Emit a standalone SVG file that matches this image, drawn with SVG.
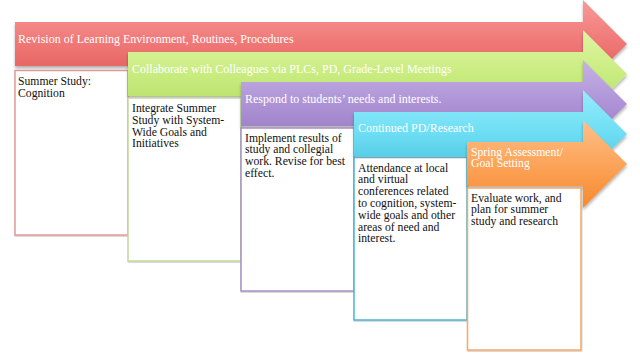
<svg xmlns="http://www.w3.org/2000/svg" width="640" height="355" viewBox="0 0 640 355">
<defs>
<linearGradient id="gRed" x1="0" y1="0" x2="0" y2="1"><stop offset="0" stop-color="#f79a98"/><stop offset="0.5" stop-color="#ef7775"/><stop offset="1" stop-color="#df5753"/></linearGradient>
<linearGradient id="gGreen" x1="0" y1="0" x2="0" y2="1"><stop offset="0" stop-color="#dff5a4"/><stop offset="0.5" stop-color="#c9ec80"/><stop offset="1" stop-color="#b2dc62"/></linearGradient>
<linearGradient id="gPurple" x1="0" y1="0" x2="0" y2="1"><stop offset="0" stop-color="#c6b2e6"/><stop offset="0.5" stop-color="#ad93d6"/><stop offset="1" stop-color="#9476be"/></linearGradient>
<linearGradient id="gCyan" x1="0" y1="0" x2="0" y2="1"><stop offset="0" stop-color="#95ecfb"/><stop offset="0.5" stop-color="#6dddf3"/><stop offset="1" stop-color="#45c0de"/></linearGradient>
<linearGradient id="gOrange" x1="0" y1="0" x2="0" y2="1"><stop offset="0" stop-color="#fec08a"/><stop offset="0.5" stop-color="#fca45a"/><stop offset="1" stop-color="#f7892c"/></linearGradient>
<filter id="sh" x="-5%" y="-10%" width="115%" height="130%"><feDropShadow dx="0" dy="2.5" stdDeviation="1.5" flood-color="#000" flood-opacity="0.3"/></filter>
<filter id="bsh" x="-5%" y="-5%" width="115%" height="115%"><feDropShadow dx="0.5" dy="1" stdDeviation="0.6" flood-color="#000" flood-opacity="0.2"/></filter>
</defs>
<style>
.t{font-family:"Liberation Serif","Times New Roman",serif;font-size:12px;fill:#fff}
.b{font-family:"Liberation Serif","Times New Roman",serif;font-size:11.7px;fill:#111}
.box{fill:#fff;stroke-width:1.5;filter:url(#bsh)}
.arr{filter:url(#sh)}
</style>
<g id="connectors"></g>
<g id="stage1">
<path class="arr" d="M15,22 H583 V0 L627,44 L583,88 V66 H15 Z" fill="url(#gRed)"/>
<text class="t" x="18" y="43">Revision of Learning Environment, Routines, Procedures</text>
<rect class="box" x="15" y="70.5" width="113" height="164.5" stroke="#e39896"/>
<text class="b" x="18" y="85.3">Summer Study:</text>
<text class="b" x="18" y="97.1">Cognition</text>
</g>
<g id="stage2">
<path class="arr" d="M128,52 H583 V30 L627,74 L583,118 V96 H128 Z" fill="url(#gGreen)"/>
<text class="t" x="132" y="73">Collaborate with Colleagues via PLCs, PD, Grade-Level Meetings</text>
<rect class="box" x="128" y="98" width="113" height="163" stroke="#c3d99b"/>
<text class="b" x="132" y="112"><tspan x="132">Integrate Summer</tspan><tspan x="132" dy="11.8">Study with System-</tspan><tspan x="132" dy="11.8">Wide Goals and</tspan><tspan x="132" dy="11.8">Initiatives</tspan></text>
</g>
<g id="stage3">
<path class="arr" d="M241,82 H583 V60 L627,104 L583,148 V126 H241 Z" fill="url(#gPurple)"/>
<text class="t" x="245" y="103">Respond to students’ needs and interests.</text>
<rect class="box" x="241" y="128" width="113" height="163" stroke="#a590c3"/>
<text class="b" x="245" y="141.5"><tspan x="245">Implement results of</tspan><tspan x="245" dy="11.8">study and collegial</tspan><tspan x="245" dy="11.8">work. Revise for best</tspan><tspan x="245" dy="11.8">effect.</tspan></text>
</g>
<g id="stage4">
<path class="arr" d="M354,112 H583 V90 L627,134 L583,178 V156 H354 Z" fill="url(#gCyan)"/>
<text class="t" x="358" y="132">Continued PD/Research</text>
<rect class="box" x="354" y="157.5" width="113" height="162.5" stroke="#4bb5d6"/>
<text class="b" x="358" y="171.5"><tspan x="358">Attendance at local</tspan><tspan x="358" dy="11.8">and virtual</tspan><tspan x="358" dy="11.8">conferences related</tspan><tspan x="358" dy="11.8">to cognition, system-</tspan><tspan x="358" dy="11.8">wide goals and other</tspan><tspan x="358" dy="11.8">areas of need and</tspan><tspan x="358" dy="11.8">interest.</tspan></text>
</g>
<g id="stage5">
<path class="arr" d="M467,142 H583 V120 L627,164 L583,208 V186 H467 Z" fill="url(#gOrange)"/>
<text class="t" x="471" y="155.5" style="font-size:11.7px"><tspan x="471">Spring Assessment/</tspan><tspan x="471" dy="11.8">Goal Setting</tspan></text>
<rect class="box" x="467.5" y="188" width="113.5" height="162" stroke="#f9a865"/>
<text class="b" x="471" y="201.5"><tspan x="471">Evaluate work, and</tspan><tspan x="471" dy="11.8">plan for summer</tspan><tspan x="471" dy="11.8">study and research</tspan></text>
</g>
</svg>
